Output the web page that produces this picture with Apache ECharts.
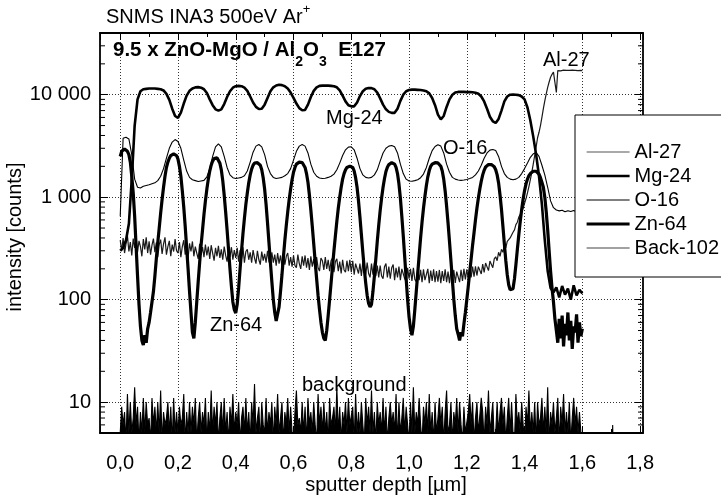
<!DOCTYPE html>
<html><head><meta charset="utf-8">
<script src="https://cdn.jsdelivr.net/npm/echarts@6/dist/echarts.min.js"></script>
<style>html,body{margin:0;padding:0;background:#fff}#c{width:721px;height:496px}</style>
</head><body><div id="c"></div>
<script>
// ---------- data ----------
// sampling grids of the sputter depth (µm)
const depthFine = Array.from({length: 321}, (_, i) => i * 5 / 1000);    // 0 … 1.6, step 0.005
const depthCoarse = Array.from({length: 161}, (_, i) => i / 100);       // 0 … 1.6, step 0.01

const seriesNames = ['Al-27', 'Mg-24', 'O-16', 'Zn-64', 'Back-102'];

// Al-27 (fine grid)
const al27 = [
 380,300,400,285,350,420,295,365,270,395,320,410,290,375,330,265,390,310,405,285,
 370,275,340,395,290,360,260,345,385,280,350,405,275,330,375,265,345,295,390,300,
 285,365,260,330,380,275,320,255,355,295,370,265,330,285,250,350,275,325,260,345,
 270,330,250,340,285,240,320,265,335,255,310,245,330,270,235,315,260,325,245,305,
 255,320,235,305,250,325,230,295,310,245,290,230,305,255,225,300,245,220,295,240,
 280,230,300,235,220,290,230,275,215,285,225,270,210,280,220,265,285,215,260,210,
 270,215,205,275,225,200,265,215,270,205,255,195,265,210,250,200,260,205,190,255,
 240,195,260,200,245,190,240,255,185,235,250,190,235,180,245,195,185,240,190,245,
 185,240,175,225,235,180,225,170,235,185,175,230,180,165,225,175,230,170,215,165,
 215,170,160,210,225,165,210,160,205,220,155,205,165,210,155,200,205,160,150,205,
 160,200,152,205,158,150,200,155,195,148,198,155,150,200,145,192,152,198,148,190,
 150,195,145,190,152,198,148,188,145,192,150,195,146,188,192,148,195,152,200,158,
 198,160,205,165,210,168,212,172,210,218,178,222,185,228,232,192,238,245,205,250,
 262,240,290,265,310,290,340,320,370,355,400,410,455,480,540,570,640,650,720,780,
 870,970,1100,1270,1480,1750,2100,2550,3100,3800,4300,5000,6000,7300,8700,10200,11800,13300,14800,15800,
 16600,17000,10500,17200,17300,17100,17250,17350,17200,17300,17150,17300,17250,17350,17200,17300,17250,17150,17300,17250,
 17200
];

// Mg-24 (coarse grid)
const mg24 = [
 300,320,380,550,1500,5000,9000,10800,11300,11400,
 11500,11500,11500,11400,11300,11000,10200,8900,7300,6200,
 5950,6700,8200,9800,10900,11500,11800,11850,11700,11300,
 10400,9000,7900,7200,7000,7200,8100,9500,10800,11700,
 12100,12200,12100,11700,10900,9600,8400,7600,7250,7300,
 8000,9300,10800,11800,12300,12500,12400,12100,11500,10500,
 9300,8200,7400,7050,7100,8000,9500,10900,11800,12200,
 12250,12250,12250,12200,12100,11800,11000,9800,8600,7900,
 7700,7700,8400,9700,10800,11400,11600,11600,11300,10500,
 9200,8000,7200,6800,6650,6650,7300,8700,10000,10800,
 11100,11200,11200,11150,11100,11000,10800,10300,9300,7900,
 6400,5750,6200,7600,9000,10000,10500,10650,10650,10650,
 10600,10600,10550,10450,10200,9600,8600,7300,6100,5500,
 5300,5800,7000,8600,9600,10000,10050,10000,9900,9600,
 9000,7500,5600,3900,2600,1600,850,380,190,130,
 118,132,105,136,112,128,100,138,110,125,115
];

// O-16 (coarse grid)
const o16 = [
 650,3750,3850,3700,2600,1500,1250,1230,1280,1300,
 1320,1350,1380,1450,1600,1900,2400,3000,3450,3650,
 3500,3000,2300,1800,1560,1480,1450,1420,1440,1460,
 1580,1900,2500,3100,3320,3100,2500,1950,1650,1550,
 1520,1540,1560,1620,1800,2200,2750,3150,3270,3100,
 2600,2000,1700,1560,1520,1540,1560,1620,1700,1900,
 2300,2800,3150,3260,3150,2700,2100,1750,1600,1540,
 1520,1530,1560,1600,1680,1850,2150,2550,2900,3080,
 3100,2900,2400,1900,1650,1560,1540,1560,1650,1850,
 2250,2700,3000,3150,3190,3100,2700,2100,1700,1500,
 1440,1430,1450,1480,1550,1680,1950,2400,2850,3120,
 3250,3150,2700,2100,1750,1560,1500,1470,1460,1470,
 1490,1520,1560,1650,1800,2050,2400,2700,2880,2920,
 2850,2500,2000,1700,1560,1500,1480,1500,1560,1700,
 1900,2150,2450,2650,2720,2500,2050,1650,1250,920,
 790,750,735,745,720,738,725,742,718,735,728
];

// Zn-64 (fine grid)
const zn64 = [
 2500,2800,2900,2950,2900,2800,2600,2200,1600,1100,650,330,170,90,55,40,36,45,38,52,
 60,75,95,120,170,250,360,500,700,950,1250,1600,1950,2200,2400,2550,2620,2650,2650,2550,
 2350,2000,1600,1150,800,520,320,200,120,75,48,42,60,95,150,230,340,480,680,920,
 1200,1500,1800,2050,2250,2380,2430,2420,2350,2150,1850,1450,1050,720,480,310,200,135,95,80,
 74,90,130,200,300,440,620,850,1100,1380,1650,1880,2050,2150,2180,2170,2150,2050,1850,1550,
 1200,850,560,360,230,150,100,75,62,64,85,120,175,260,380,530,720,950,1200,1480,
 1750,1950,2100,2180,2200,2200,2180,2100,1950,1700,1400,1050,750,520,350,235,160,110,80,60,
 48,42,40,50,70,100,145,210,300,420,580,780,1000,1250,1500,1700,1850,1950,2000,2010,
 2000,1950,1800,1550,1250,920,640,430,290,200,145,110,92,85,90,120,170,250,370,530,
 740,980,1250,1520,1780,1960,2080,2150,2170,2160,2100,1950,1700,1350,980,650,420,260,160,100,
 68,52,45,55,80,120,180,270,400,570,780,1020,1300,1580,1820,2000,2100,2150,2170,2170,
 2160,2120,2000,1800,1500,1150,820,560,370,240,155,100,70,52,46,40,48,44,58,75,
 100,135,185,250,340,450,600,780,980,1200,1430,1650,1830,1970,2050,2080,2090,2080,2050,1980,
 1850,1650,1380,1050,760,520,350,240,175,140,125,120,128,160,220,310,430,580,760,960,
 1160,1350,1500,1620,1700,1760,1790,1800,1790,1760,1680,1550,1400,1250,1000,720,480,300,190,130,
 95,65,50,38,65,42,70,35,58,45,75,40,62,33,55,48,72,38,60,44,
 52
];

// Back-102 background counts (fine grid), plus the few points after 1.6 µm
const back102 = [
 5,9,6,8,4,12,5,10,5,7,14,6,9,4,8,5,11,5,10,6,
 7,4,11,6,9,5,10,5,13,4,8,6,7,10,5,9,4,11,5,8,
 5,9,6,7,12,4,8,5,10,5,9,6,11,4,7,10,5,8,6,11,
 4,8,5,13,5,9,6,10,4,7,10,5,11,5,8,4,9,6,12,5,
 8,6,10,4,7,9,5,11,5,8,4,10,6,15,5,7,9,4,10,6,
 5,11,5,8,6,10,4,9,6,12,5,7,10,4,8,6,11,5,9,5,
 4,8,13,6,7,5,10,5,9,4,11,6,8,5,10,6,4,12,6,9,
 5,10,5,8,4,11,6,7,9,5,14,5,9,4,8,6,10,5,11,6,
 6,9,4,12,5,8,5,10,6,4,11,6,9,5,13,5,8,4,10,6,
 8,5,11,5,9,4,7,10,6,8,5,12,4,10,5,7,11,5,9,6,
 4,10,5,14,5,8,6,11,6,4,9,6,10,5,12,5,8,4,10,5,
 7,11,6,9,4,8,13,5,6,10,4,8,6,11,5,10,6,4,9,5,
 5,8,12,6,10,4,7,10,5,5,11,8,4,9,6,13,5,7,10,4,
 5,10,5,8,11,6,9,4,7,11,5,10,5,4,12,6,8,5,10,6,
 4,9,6,13,5,8,5,10,4,10,6,7,11,5,9,5,14,4,8,6,
 10,5,7,11,4,9,6,12,5,8,5,10,4,7,11,6,9,5,8,5,
 4
];
const backTailDepth = [1.602, 1.70, 1.705, 1.71, 1.80];
const backTailValues = [1, 1, 6, 1, 1];

// axis ticks and labels
const xTickValues = [0, 0.2, 0.4, 0.6, 0.8, 1.0, 1.2, 1.4, 1.6, 1.8];
const xTickLabels = ['0,0','0,2','0,4','0,6','0,8','1,0','1,2','1,4','1,6','1,8'];
const yTickValues = [10, 100, 1000, 10000];
const yTickLabels = ['10', '100', '1 000', '10 000'];
const yMinorTickValues = [6,7,8,9,20,30,40,50,60,70,80,90,200,300,400,500,600,700,800,900,
  2000,3000,4000,5000,6000,7000,8000,9000,20000,30000];

// ---------- chart ----------
const FONT = '"Liberation Sans", Arial, Helvetica, sans-serif';
const X_MIN = -0.07, X_MAX = 1.81, Y_MIN = 5, Y_MAX = 40000;

function pairs(xs, ys) {
  const n = Math.min(xs.length, ys.length), out = [];
  for (let i = 0; i < n; i++) out.push([xs[i], ys[i]]);
  return out;
}
const xLabel = v => { const i = xTickValues.findIndex(t => Math.abs(t - v) < 1e-6); return i < 0 ? '' : xTickLabels[i]; };
const yLabel = v => { const i = yTickValues.findIndex(t => Math.abs(t - v) / t < 1e-6); return i < 0 ? '' : yTickLabels[i]; };

const frame = {color: '#000', width: 1.8};
const tickStyle = {color: '#000', width: 1};
const gridLine = {color: '#333', width: 1, type: [1, 2]};

const styles = {
  'Al-27':    {color: '#555', width: 1.2},
  'Mg-24':    {color: '#000', width: 2.6},
  'O-16':     {color: '#000', width: 1.1},
  'Zn-64':    {color: '#000', width: 3.2},
  'Back-102': {color: '#444', width: 1.2}
};
const plotStyles = {
  'Al-27':    {color: '#1a1a1a', width: 1.2},
  'Back-102': {color: '#000', width: 1.1}
};

const chart = echarts.init(document.getElementById('c'), null, {renderer: 'canvas', width: 721, height: 496});

const backData = pairs(depthFine, back102).concat(pairs(backTailDepth, backTailValues));
const seriesData = {
  'Al-27': pairs(depthFine, al27),
  'Mg-24': pairs(depthCoarse, mg24),
  'O-16': pairs(depthCoarse, o16),
  'Zn-64': pairs(depthFine, zn64),
  'Back-102': backData
};

const lineSeries = seriesNames.map(name => {
  const st = plotStyles[name] || styles[name];
  const s = {
    name: name, type: 'line', data: seriesData[name], symbol: 'none', showSymbol: false,
    silent: true, z: (name === 'Al-27' || name === 'Back-102') ? 2 : 3,
    lineStyle: {color: st.color, width: st.width},
    itemStyle: {color: st.color}
  };
  if (name === 'Back-102') s.areaStyle = {color: '#000', opacity: 1, origin: 'start'};
  return s;
});

const option = {
  animation: false,
  backgroundColor: '#fff',
  textStyle: {fontFamily: FONT},
  grid: {left: 100, top: 33, right: 78, bottom: 63, containLabel: false, outerBoundsMode: 'none'},
  xAxis: [
    {type: 'value', min: X_MIN, max: X_MAX, splitNumber: 9, position: 'bottom',
     axisLine: {show: true, onZero: false, lineStyle: frame},
     axisTick: {show: true, inside: true, length: 7, lineStyle: tickStyle},
     minorTick: {show: true, splitNumber: 2, length: 4, lineStyle: tickStyle},
     axisLabel: {show: true, margin: 20, fontSize: 20, color: '#000', fontFamily: FONT, formatter: xLabel, hideOverlap: false},
     splitLine: {show: true, showMinLine: false, showMaxLine: false, lineStyle: gridLine}},
    {type: 'value', min: X_MIN, max: X_MAX, splitNumber: 9, position: 'top',
     axisLine: {show: true, onZero: false, lineStyle: frame},
     axisTick: {show: true, inside: true, length: 7, lineStyle: tickStyle},
     minorTick: {show: true, splitNumber: 2, length: 4, lineStyle: tickStyle},
     axisLabel: {show: false}, splitLine: {show: false}}
  ],
  yAxis: [
    {type: 'log', logBase: 10, min: Y_MIN, max: Y_MAX, position: 'left',
     axisLine: {show: true, onZero: false, lineStyle: frame},
     axisTick: {show: true, inside: true, length: 8, lineStyle: tickStyle},
     axisLabel: {show: true, margin: 9, fontSize: 20, color: '#000', fontFamily: FONT, formatter: yLabel, hideOverlap: false},
     splitLine: {show: true, showMinLine: false, showMaxLine: false, lineStyle: gridLine}},
    {type: 'log', logBase: 10, min: Y_MIN, max: Y_MAX, position: 'right',
     axisLine: {show: true, onZero: false, lineStyle: frame},
     axisTick: {show: true, inside: true, length: 8, lineStyle: tickStyle},
     axisLabel: {show: false}, splitLine: {show: false}}
  ],
  legend: {
    show: true, orient: 'vertical', left: 575, top: 115, z: 10, zlevel: 0,
    data: seriesNames.map(name => ({name: name, lineStyle: {color: styles[name].color, width: styles[name].width}})),
    selectedMode: false,
    itemWidth: 43, itemHeight: 20, itemGap: 4,
    itemStyle: {opacity: 0, borderWidth: 0},
    padding: [27, 60, 19, 10],
    backgroundColor: '#fff', borderColor: '#000', borderWidth: 1, borderRadius: 0,
    textStyle: {fontSize: 20, color: '#000', fontFamily: FONT, lineHeight: 20}
  },
  series: lineSeries.concat([
    {name: 'yMinorTicks', type: 'custom', silent: true, clip: false, z: 1,
     data: yMinorTickValues.map(v => [X_MIN, v]), encode: {x: 0, y: 1},
     renderItem: function (params, api) {
       const v = api.value(1);
       const pl = api.coord([X_MIN, v]);
       const pr = api.coord([X_MAX, v]);
       return {type: 'group', children: [
         {type: 'line', shape: {x1: pl[0], y1: pl[1], x2: pl[0] + 5, y2: pl[1]}, style: {stroke: '#000', lineWidth: 1}},
         {type: 'line', shape: {x1: pr[0], y1: pr[1], x2: pr[0] - 5, y2: pr[1]}, style: {stroke: '#000', lineWidth: 1}}
       ]};
     }}
  ]),
  graphic: [
    {type: 'text', x: 106, y: 3, z: 10, style: {
      text: '{a|SNMS INA3 500eV Ar}{s|+}',
      rich: {a: {fontSize: 20, lineHeight: 20, padding: [4, 0, 0, 0], verticalAlign: 'top', fontFamily: FONT, fill: '#000'},
             s: {fontSize: 13, lineHeight: 13, verticalAlign: 'top', fontFamily: FONT, fill: '#000'}}}},
    {type: 'text', x: 113, y: 40, z: 10, style: {
      text: '{b|9.5 x ZnO-MgO / Al}{s|2}{b|O}{s|3}{b|  E127}',
      rich: {b: {fontSize: 20.5, fontWeight: 'bold', lineHeight: 20, verticalAlign: 'top', fontFamily: FONT, fill: '#000'},
             s: {fontSize: 14, fontWeight: 'bold', lineHeight: 14, padding: [15, 0, 0, 0], verticalAlign: 'top', fontFamily: FONT, fill: '#000'}}}},
    {type: 'text', x: 326, y: 108, z: 10, style: {text: 'Mg-24', fontSize: 20, fontFamily: FONT, fill: '#000', textVerticalAlign: 'top'}},
    {type: 'text', x: 443, y: 138, z: 10, style: {text: 'O-16', fontSize: 20, fontFamily: FONT, fill: '#000', textVerticalAlign: 'top'}},
    {type: 'text', x: 210, y: 315, z: 10, style: {text: 'Zn-64', fontSize: 20, fontFamily: FONT, fill: '#000', textVerticalAlign: 'top'}},
    {type: 'text', x: 543, y: 50, z: 10, style: {text: 'Al-27', fontSize: 20, fontFamily: FONT, fill: '#000', textVerticalAlign: 'top'}},
    {type: 'text', x: 302, y: 375, z: 10, style: {text: 'background', fontSize: 20, fontFamily: FONT, fill: '#000', textVerticalAlign: 'top'}},
    {type: 'text', x: 15, y: 237, rotation: Math.PI / 2, z: 10, style: {text: 'intensity [counts]', fontSize: 20, fontFamily: FONT, fill: '#000', textAlign: 'center', textVerticalAlign: 'middle'}},
    {type: 'text', x: 386, y: 485, z: 10, style: {text: 'sputter depth [µm]', fontSize: 20, fontFamily: FONT, fill: '#000', textAlign: 'center', textVerticalAlign: 'middle'}}
  ]
};
chart.setOption(option);
</script></body></html>
